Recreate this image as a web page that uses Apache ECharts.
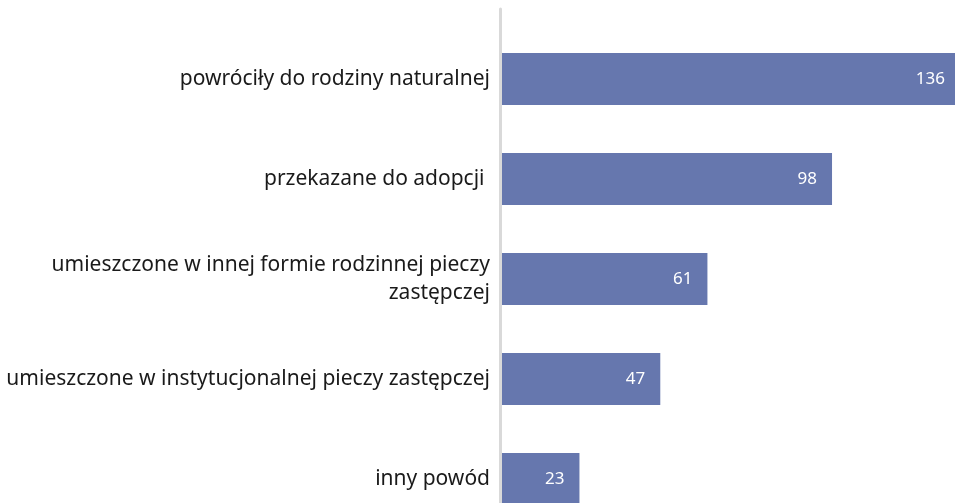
<!DOCTYPE html>
<html>
<head>
<meta charset="utf-8">
<script src="https://cdn.jsdelivr.net/npm/echarts@6/dist/echarts.min.js"></script>
<style>
html,body{margin:0;padding:0;background:#fff;}
#main{width:955px;height:503px;}
</style>
</head>
<body>
<div id="main"></div>
<script>
// kategorie i wartości
var categories = [
	'powróciły do rodziny naturalnej',
	'przekazane do adopcji ',
	'umieszczone w innej formie rodzinnej pieczy\nzastępczej',
	'umieszczone w instytucjonalnej pieczy zastępczej',
	'inny powód'
];
var values = [136, 98, 61, 47, 23];

window.onload = function() {
	var myChart = echarts.init(document.getElementById('main'));
	var option = {
		animation: false,
		textStyle: { fontFamily: 'Noto Sans' },
		grid: [
			{ left: 502, width: 458, top: 29, height: 500, containLabel: false, outerBoundsMode: 'none' },
			// tylko dla linii osi
			{ left: 500, width: 1, top: 9, height: 500, containLabel: false, outerBoundsMode: 'none' }
		],
		xAxis: [
			{ type: 'value', gridIndex: 0, min: 0, max: 136, show: false },
			{ type: 'value', gridIndex: 1, show: false }
		],
		yAxis: [
			{
				type: 'category',
				gridIndex: 0,
				inverse: true,
				data: categories,
				axisLine: { show: false },
				axisTick: { show: false },
				axisLabel: {
					margin: 12,
					fontSize: 21,
					color: '#1a1a1a',
					lineHeight: 28,
					padding: [9, 0, 0, 0],
					align: 'right'
				}
			},
			{
				type: 'value',
				gridIndex: 1,
				axisLine: { show: true, lineStyle: { color: '#d9d9d9', width: 3 } },
				axisTick: { show: false },
				axisLabel: { show: false },
				splitLine: { show: false }
			}
		],
		series: [{
			type: 'bar',
			xAxisIndex: 0,
			yAxisIndex: 0,
			data: values,
			barWidth: 52,
			itemStyle: { color: '#6677ae' },
			label: {
				show: true,
				position: 'insideRight',
				distance: 15,
				color: '#fff',
				fontSize: 17
			}
		}]
	};
	myChart.setOption(option);
};
</script>
</body>
</html>
